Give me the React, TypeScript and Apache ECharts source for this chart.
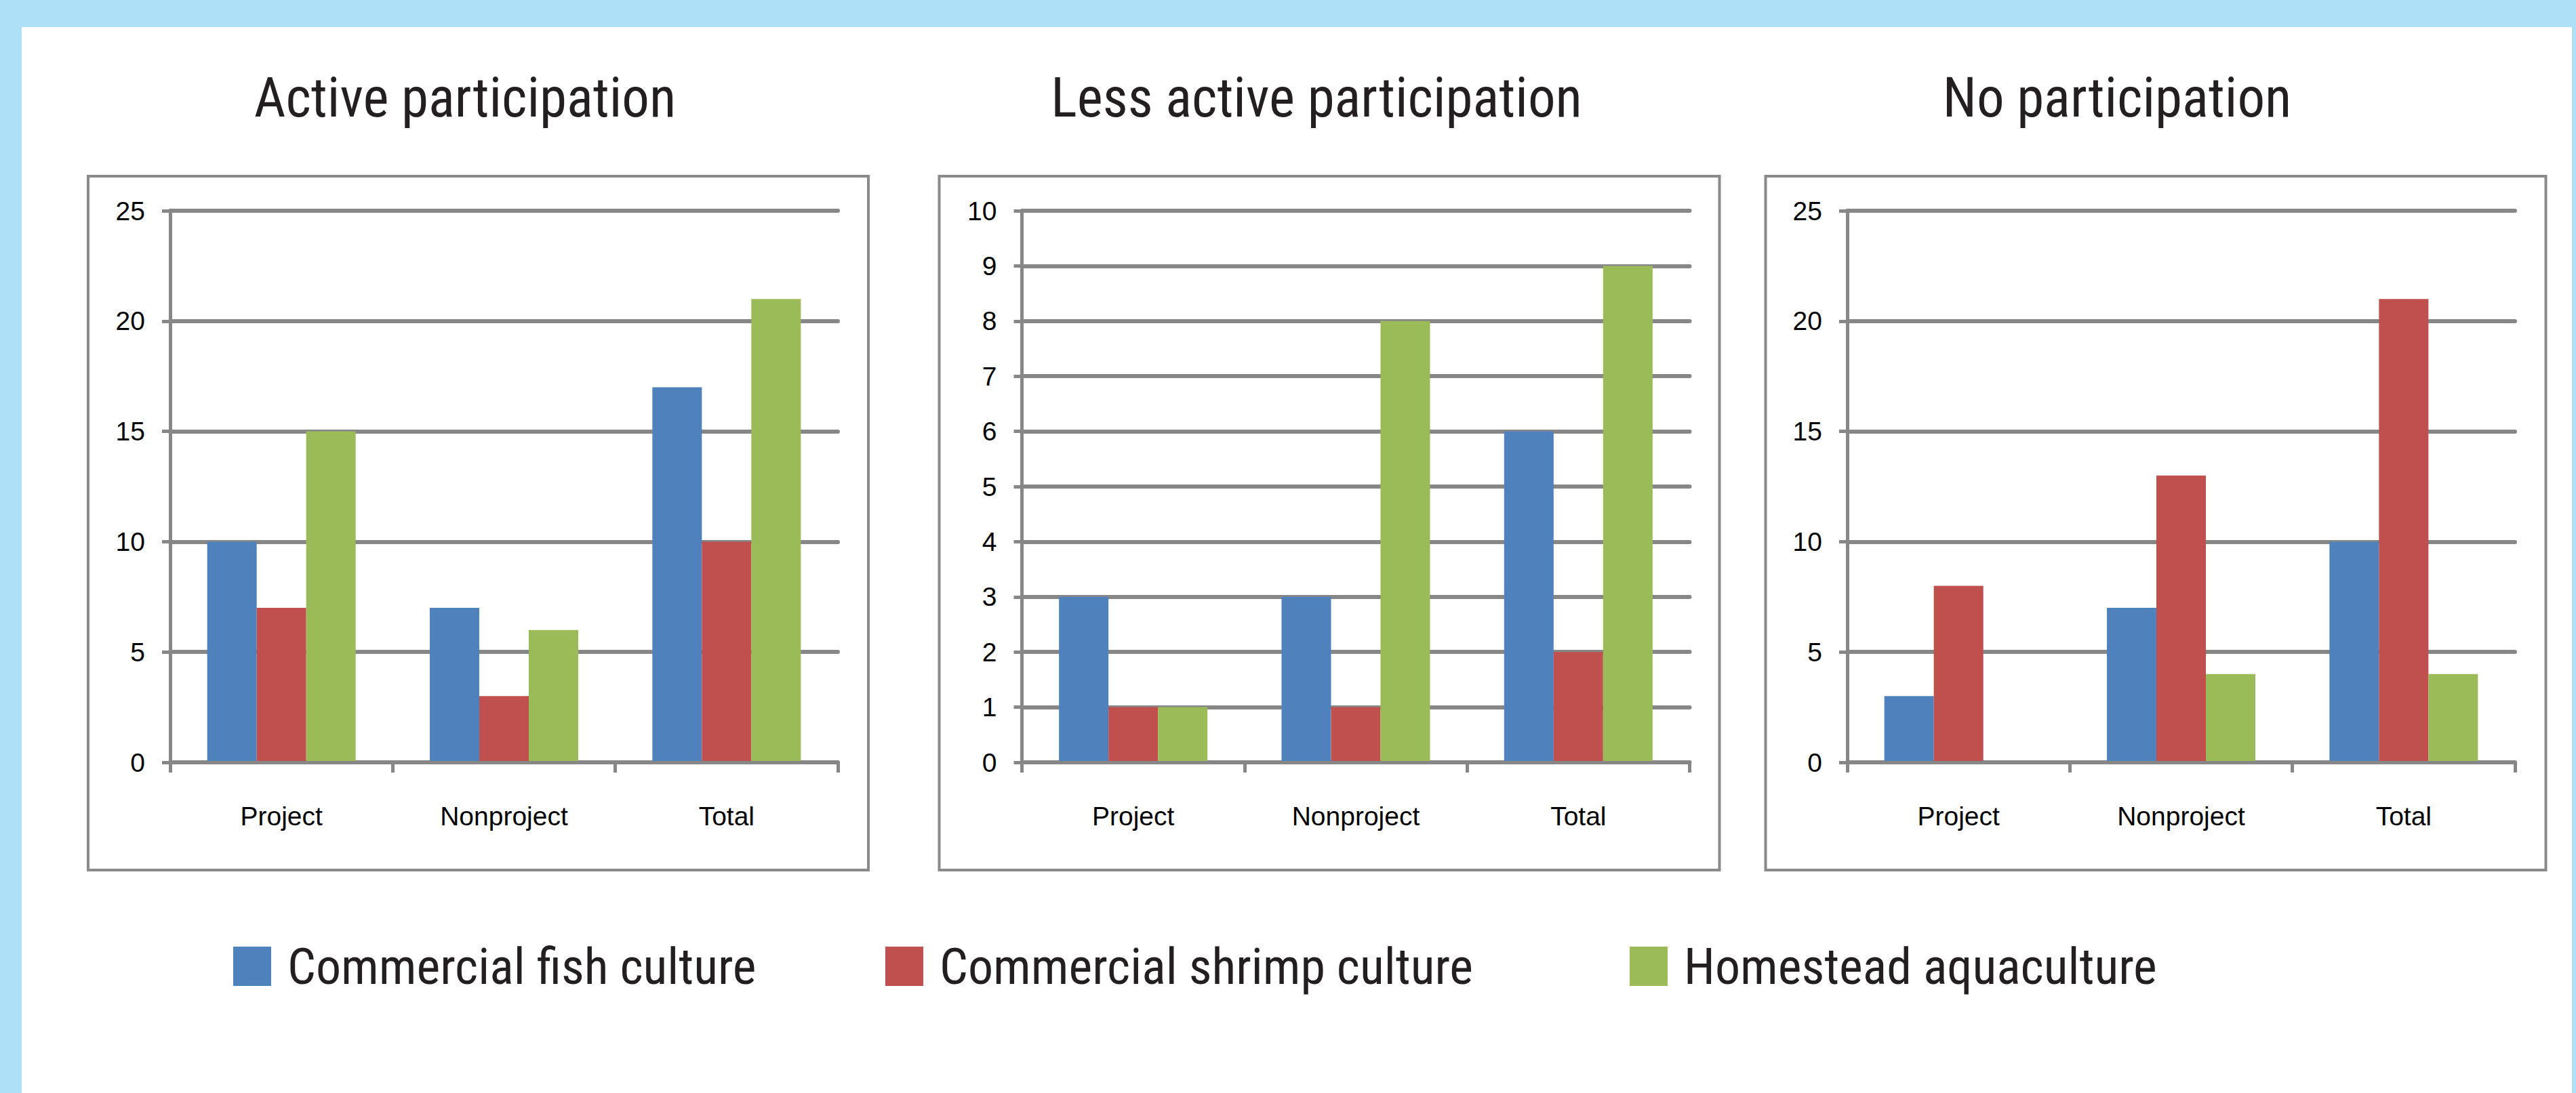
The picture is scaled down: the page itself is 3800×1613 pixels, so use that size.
import React, { useEffect, useRef } from 'react';
import * as echarts from 'echarts';

const categories = ['Project', 'Nonproject', 'Total'];
const seriesNames = ['Commercial fish culture', 'Commercial shrimp culture', 'Homestead aquaculture'];
const panelTitles = ['Active participation', 'Less active participation', 'No participation'];

const activeFish = [10, 7, 17];
const activeShrimp = [7, 3, 10];
const activeHomestead = [15, 6, 21];

const lessFish = [3, 3, 6];
const lessShrimp = [1, 1, 2];
const lessHomestead = [1, 8, 9];

const noneFish = [3, 7, 10];
const noneShrimp = [8, 13, 21];
const noneHomestead = [0, 4, 4];

const yMax = [25, 10, 25];
const yInterval = [5, 1, 5];

const colors = ['#4F81BD', '#C0504D', '#9BBB59'];
const GRAY = '#878787';
const NARROW = "'Liberation Sans Narrow', 'Arial Narrow', 'Roboto Condensed', sans-serif";
const LABEL_FONT = "'Liberation Sans', Arial, sans-serif";

const panelData = [
  [activeFish, activeShrimp, activeHomestead],
  [lessFish, lessShrimp, lessHomestead],
  [noneFish, noneShrimp, noneHomestead],
];

const gridLefts = [251, 1507.5, 2725];
const boxLefts = [130, 1385.5, 2604.5];
const titleCenters = [686, 1942, 3123];
const legendLefts = [344, 1306, 2404];

export default function App() {
  const ref = useRef<HTMLDivElement>(null);
  useEffect(() => {
    document.body.style.margin = '0';
    const chart = echarts.init(ref.current!, null, { renderer: 'svg' });

    const grids = gridLefts.map((l) => ({ left: l, top: 311, width: 985, height: 814 }));
    const xAxes = gridLefts.map((_, i) => ({
      type: 'category',
      gridIndex: i,
      data: categories,
      z: 3,
      axisLine: { show: true, lineStyle: { color: GRAY, width: 5, cap: 'round' } },
      axisTick: { show: true, length: 15, lineStyle: { color: GRAY, width: 5 } },
      axisLabel: { color: '#000', fontSize: 39, fontFamily: LABEL_FONT, margin: 60 },
      splitLine: { show: false },
    }));
    const yAxes = gridLefts.map((_, i) => ({
      type: 'value',
      gridIndex: i,
      min: 0,
      max: yMax[i],
      interval: yInterval[i],
      axisLine: { show: true, lineStyle: { color: GRAY, width: 5 } },
      axisTick: { show: true, length: 12, lineStyle: { color: GRAY, width: 5 } },
      axisLabel: { color: '#000', fontSize: 39, fontFamily: LABEL_FONT, margin: 37 },
      splitLine: { show: true, lineStyle: { color: GRAY, width: 6, cap: 'round' } },
    }));

    const series: any[] = [];
    panelData.forEach((arrs, p) => {
      arrs.forEach((vals, s) => {
        series.push({
          type: 'bar',
          name: seriesNames[s],
          xAxisIndex: p,
          yAxisIndex: p,
          data: vals,
          barGap: '0%',
          barCategoryGap: '33.3%',
          itemStyle: { color: colors[s] },
        });
      });
    });

    const titles = panelTitles.map((t, i) => ({
      text: t,
      left: titleCenters[i],
      top: 104,
      textAlign: 'center',
      padding: 0,
      textStyle: { fontFamily: NARROW, fontSize: 81, fontWeight: 'normal', color: '#231F20' },
    }));

    const legends = seriesNames.map((n, i) => ({
      data: [n],
      left: legendLefts[i],
      top: 1389,
      padding: 0,
      icon: 'rect',
      itemWidth: 56,
      itemHeight: 58,
      selectedMode: false,
      textStyle: { fontFamily: NARROW, fontSize: 74, color: '#231F20', padding: [0, 0, 0, 19] },
    }));

    const graphic: any[] = [
      { type: 'rect', z: -10, shape: { x: 32, y: 40, width: 3762, height: 1573 }, style: { fill: '#ffffff' } },
      ...boxLefts.map((x) => ({
        type: 'rect',
        z: -5,
        shape: { x, y: 260, width: 1151, height: 1024 },
        style: { fill: 'none', stroke: '#8a8a8a', lineWidth: 4 },
      })),
    ];

    chart.setOption({
      animation: false,
      backgroundColor: '#AEE1F8',
      title: titles,
      legend: legends,
      grid: grids,
      xAxis: xAxes,
      yAxis: yAxes,
      series,
      graphic,
    });
    return () => chart.dispose();
  }, []);
  return <div ref={ref} style={{ width: 3800, height: 1613 }} />;
}
